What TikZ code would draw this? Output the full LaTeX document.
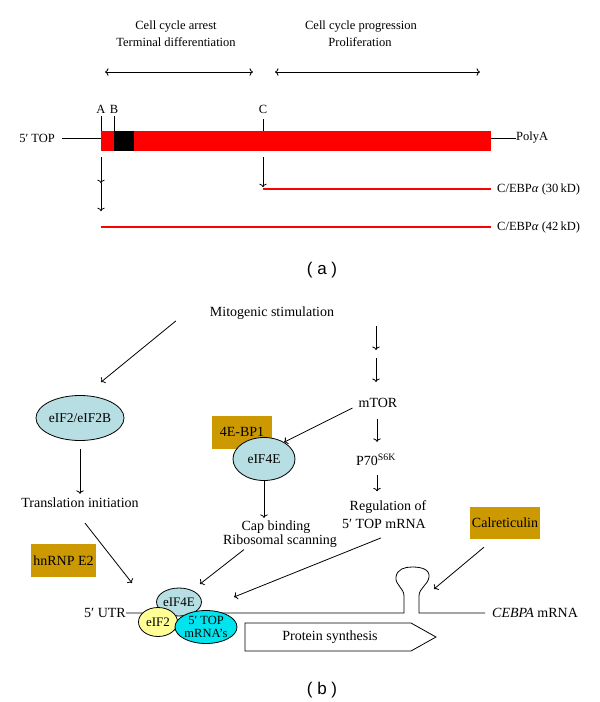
\documentclass[tikz,border=0pt]{standalone}
\usepackage{fontspec}
\setmainfont{Liberation Serif}
\newfontfamily\labfont{Liberation Sans}
\usetikzlibrary{shapes.geometric,calc,arrows.meta}
\definecolor{goldfill}{RGB}{204,153,0}
\definecolor{paleblue}{RGB}{183,222,226}
\definecolor{paleyellow}{RGB}{255,255,150}
\definecolor{brightcyan}{RGB}{0,228,238}
\begin{document}
\begin{tikzpicture}[x=1pt,y=-1pt,
  ta/.style={font=\fontsize{12.5}{15}\selectfont, inner sep=0pt},
  tb/.style={font=\fontsize{14}{16}\selectfont, inner sep=0pt},
  conn/.style={line width=0.8pt},
  arr/.style={conn,-{To[length=3.5pt,width=7.5pt]}},
  darr/.style={conn,{To[length=3.5pt,width=7.5pt]}-{To[length=3.5pt,width=7.5pt]}},
  oval/.style={ellipse, draw, line width=0.8pt, inner sep=0pt, font=\fontsize{13.5}{14}\selectfont},
  gbox/.style={rectangle, fill=goldfill, inner sep=0pt, font=\fontsize{14}{16}\selectfont},
  redline/.style={red, line width=1.3pt},
  panel/.style={font=\labfont\fontsize{17}{20}\selectfont, inner sep=0pt}
]
\useasboundingbox (0,0) rectangle (600,702);

% ---------- part (a) ----------
\node[ta] (arrest) at (176,27) {Cell cycle arrest};
\node[ta] (termdiff) at (176,42) {Terminal differentiation};
\node[ta] (prog) at (361,27) {Cell cycle progression};
\node[ta] (prolif) at (360,42) {Proliferation};
\coordinate (la) at (105,72); \coordinate (lb) at (253,72);
\coordinate (ra) at (275,72); \coordinate (rb) at (480,72);
\draw[darr] (la) -- (lb);
\draw[darr] (ra) -- (rb);

\node[fill=red, inner sep=0pt, minimum width=390.4pt, minimum height=20pt, anchor=west] (bar) at (100.6,141) {};
\node[fill=black, inner sep=0pt, minimum width=20pt, minimum height=20pt] (blk) at (124,141) {};

\node[ta, anchor=south] (labA) at (101,114) {A};
\node[ta, anchor=south] (labB) at (114,114) {B};
\node[ta, anchor=south] (labC) at (263,114) {C};
\draw[conn] ($(labA.south)+(0,2)$) -- (labA.south |- bar.north);
\draw[conn] ($(labB.south)+(0,2)$) -- (labB.south |- bar.north);
\draw[conn] ($(labC.south)+(0,5)$) -- (labC.south |- bar.north);

\node[ta, anchor=east] (top5) at (55,138) {5′ TOP};
\draw[conn] ($(top5.east)+(7,0)$) -- (top5.east -| bar.west);
\node[ta, anchor=west] (polyA) at (516,138) {PolyA};
\draw[conn] (polyA.west) -- (polyA.west -| bar.east);

\coordinate (a1) at ($(labA.south |- bar.south)+(0,6)$);
\coordinate (a2) at ($(a1)+(0,26)$);
\coordinate (a3) at ($(a2)+(0,28)$);
\draw[arr] (a1) -- (a2);
\draw[arr] (a2) -- (a3);
\coordinate (c1) at ($(labC.south |- bar.south)+(0,6)$);
\coordinate (c2) at ($(c1)+(0,30)$);
\draw[arr] (c1) -- (c2);

\node[ta, anchor=west] (l30) at (497,189) {C/EBP\textit{α} (30\,kD)};
\node[ta, anchor=west] (l42) at (497,227) {C/EBP\textit{α} (42\,kD)};
\draw[redline] (labC.south |- l30.west) -- ($(l30.west)+(-6,0)$);
\draw[redline] (labA.south |- l42.west) -- ($(l42.west)+(-6,0)$);

\node[panel] (pa) at (322,270) {( a )};

% ---------- part (b) ----------
\node[tb] (mito) at (272,313) {Mitogenic stimulation};
\node[oval, fill=paleblue, minimum width=70pt, minimum height=45pt] (eif2b) at (80,418) {eIF2/eIF2B};
\draw[arr] ($(mito.west)+(-34,8)$) -- ($(eif2b.north)+(21,-13)$);

\node[tb] (mtor) at (378,403) {mTOR};
\coordinate (m1) at (376,326); \coordinate (m2) at (376,350);
\coordinate (m3) at (376,358); \coordinate (m4) at (376,382);
\draw[arr] (m1) -- (m2);
\draw[arr] (m3) -- (m4);

\node[tb] (p70) at (376,460) {P70\textsuperscript{S6K}};
\node[tb] (reg1) at (388,507) {Regulation of};
\node[tb] (reg2) at (384,524) {5′ TOP mRNA};
\draw[arr] ($(mtor.south)+(-1,11)$) -- ($(p70.north)+(1,-12)$);
\draw[arr] ($(p70.south)+(1,9)$) -- ($(reg1.north)+(-11,-9)$);

\node[gbox, minimum width=60pt, minimum height=33pt] (bp1) at (242,432.5) {\raisebox{2pt}{4E-BP1}};
\node[oval, fill=paleblue, minimum width=62pt, minimum height=43pt] (eif4e) at (264,459) {eIF4E};
\draw[arr] ($(mtor.west)+(-6,5)$) -- (eif4e.40);

\node[tb] (cap) at (276,527) {Cap binding};
\node[tb] (ribo) at (280,541) {Ribosomal scanning};
\draw[arr] (eif4e.south) -- ($(eif4e.south)+(0,37)$);

\node[tb] (ti) at (80,503) {Translation initiation};
\draw[arr] ($(eif2b.south)+(0,8)$) -- ($(ti.north)+(0,-4)$);

\node[gbox, minimum width=70pt, minimum height=32pt] (calr) at (505,523) {Calreticulin};
\node[gbox, minimum width=65pt, minimum height=33pt] (hnrnp) at (63.5,560.5) {hnRNP E2};

% mRNA with stem loop
\node[tb, anchor=east] (utr) at (126,613) {5′ UTR};
\node[tb, anchor=west] (cebpa) at (492,613) {\textit{CEBPA} mRNA};
\coordinate (sl) at (404,613); \coordinate (sr) at (419,613);
\coordinate (loopl) at (404,596); \coordinate (loopr) at (419,596);
\draw[conn] (utr.east) -- (sl) -- (loopl)
  .. controls (404,588) and (395,585) .. (396,577)
  .. controls (397,569) and (405,567) .. (412,567)
  .. controls (421,567) and (430,569) .. (429,577)
  .. controls (428,585) and (419,588) .. (loopr)
  -- (sr) -- ($(cebpa.west)+(-7,0)$);

% complex
\node[oval, fill=paleblue, minimum width=41pt, minimum height=28pt, font=\fontsize{13}{14}\selectfont] (e4s) at (179,602) {eIF4E};
\node[oval, fill=paleyellow, minimum width=39pt, minimum height=29pt, font=\fontsize{13}{14}\selectfont] (e2s) at (158,622) {eIF2};
\node[oval, fill=brightcyan, minimum width=62pt, minimum height=33pt, align=center, font=\fontsize{12.5}{12.5}\selectfont] (topm) at (206,627) {5′ TOP\\mRNA’s};

\draw[arr] ($(ti.south)+(5,15)$) -- ($(e2s)+(-26,-39)$);
\draw[arr] ($(ribo.south)+(-36,2)$) -- ($(e4s)+(21,-18)$);
\draw[arr] ($(reg2.south)+(-3,9)$) -- ($(topm)+(28,-30)$);
\draw[arr] ($(calr.south)+(-21,8)$) -- ($(sr)+(15,-24)$);

% protein synthesis arrow
\node[tb] (ps) at (330,637) {Protein synthesis};
\draw[conn] ($(ps)+(-85,-14)$) -- ($(ps)+(81,-14)$) -- ($(ps)+(106,0)$) -- ($(ps)+(81,14)$) -- ($(ps)+(-85,14)$) -- cycle;

\node[panel] (pb) at (322,690) {( b )};
\end{tikzpicture}
\end{document}
